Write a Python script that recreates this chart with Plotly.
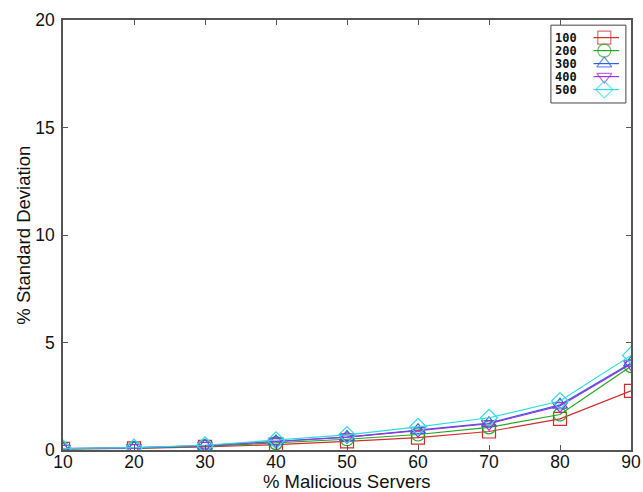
import plotly.graph_objects as go

# Percentage of malicious servers on the x axis
malicious_pct = [10, 20, 30, 40, 50, 60, 70, 80, 90]

# Standard deviation (%) per network size
series_names = ["100", "200", "300", "400", "500"]
std_100 = [0.05, 0.08, 0.15, 0.25, 0.40, 0.58, 0.86, 1.45, 2.75]
std_200 = [0.05, 0.09, 0.17, 0.32, 0.50, 0.72, 1.05, 1.65, 3.90]
std_300 = [0.06, 0.10, 0.20, 0.40, 0.60, 0.92, 1.25, 2.10, 4.05]
std_400 = [0.06, 0.10, 0.20, 0.40, 0.60, 0.90, 1.22, 2.05, 4.00]
std_500 = [0.07, 0.11, 0.22, 0.45, 0.70, 1.08, 1.50, 2.28, 4.40]

colors = ["#d22c2c", "#22a822", "#2f62e0", "#a030e0", "#2edce0"]
symbols = ["square-open", "circle-open", "triangle-up-open", "triangle-down-open", "diamond-open"]

fig = go.Figure()
for name, ys, c, s in zip(series_names, [std_100, std_200, std_300, std_400, std_500], colors, symbols):
    fig.add_trace(go.Scatter(
        x=malicious_pct, y=ys, name=name, mode="lines+markers",
        line=dict(color=c, width=1.2),
        marker=dict(symbol=s, size=13, color=c, line=dict(color=c, width=1.2)),
        showlegend=False,
    ))

# Legend in gnuplot style: label on the left, line sample with symbol on the right.
# Positions are fractions of the plotting area.
box_x0, box_x1, box_y0, box_y1 = 0.859, 0.991, 0.807, 0.988
row_top, row_step = 0.959, 0.0302
label_right = 0.908
key_x0, key_x1, key_mid = 0.934, 0.979, 0.953

fig.add_shape(type="rect", xref="paper", yref="paper",
              x0=box_x0, x1=box_x1, y0=box_y0, y1=box_y1,
              line=dict(color="#444", width=1), fillcolor="white", layer="below")
for i, (name, c, s) in enumerate(zip(series_names, colors, symbols)):
    ry = row_top - i * row_step
    fig.add_annotation(x=label_right, y=ry, xref="paper", yref="paper",
                       text=f"<b>{name}</b>", showarrow=False, xanchor="right", yanchor="middle",
                       font=dict(family="DejaVu Sans Mono", size=12, color="#111"))
    fig.add_trace(go.Scatter(
        x=[key_x0, key_mid, key_x1], y=[ry, ry, ry], xaxis="x2", yaxis="y2",
        mode="lines+markers", line=dict(color=c, width=1.2),
        marker=dict(symbol=s, size=[0, 13, 0], color=c, line=dict(color=c, width=1.2)),
        showlegend=False, hoverinfo="skip",
    ))

title_font = dict(family="Liberation Sans, Arial", size=18.5, color="#111")
fig.add_annotation(text="% Malicious Servers", x=0.5, y=-0.073, xref="paper", yref="paper",
                   showarrow=False, xanchor="center", yanchor="middle", font=title_font)
fig.add_annotation(text="% Standard Deviation", x=-0.071, y=0.5, xref="paper", yref="paper",
                   showarrow=False, xanchor="center", yanchor="middle", textangle=-90,
                   font=title_font)

tick_font = dict(family="Liberation Sans, Arial", size=17.5, color="#111")
axis_common = dict(
    showline=True, linecolor="#555", linewidth=1.6, mirror="ticks",
    ticks="inside", ticklen=5, tickcolor="#555",
    showgrid=False, zeroline=False, automargin=False,
    tickfont=tick_font,
)

fig.update_layout(
    width=643, height=492,
    margin=dict(l=63, r=12, t=20, b=42),
    plot_bgcolor="white", paper_bgcolor="white",
    xaxis=dict(range=[10, 90], tickvals=malicious_pct, ticklabelstandoff=-5, **axis_common),
    yaxis=dict(range=[0, 20], tickvals=[0, 5, 10, 15, 20], ticklabelstandoff=3, **axis_common),
    xaxis2=dict(range=[0, 1], overlaying="x", visible=False, fixedrange=True),
    yaxis2=dict(range=[0, 1], overlaying="y", visible=False, fixedrange=True),
    showlegend=False,
)

fig.write_html("out.html")
